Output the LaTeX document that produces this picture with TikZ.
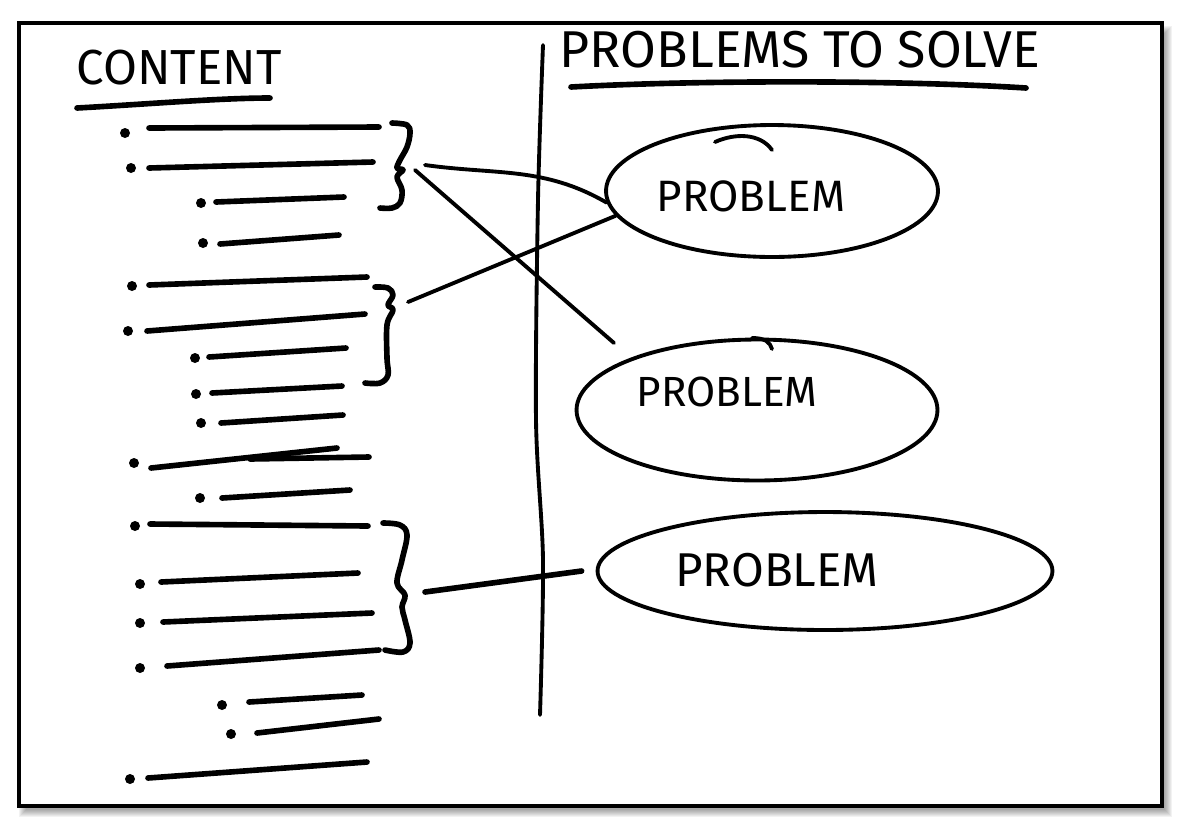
\documentclass[tikz,border=0pt]{standalone}
\usepackage{fontspec}
\setmainfont{Fira Sans}
\usetikzlibrary{positioning, shapes.geometric}

\tikzset{
  ink/.style={line width=3.2pt, line cap=round, line join=round},
  pen/.style={line width=2.2pt, line cap=round, line join=round},
  prob/.style={ellipse, draw, pen, inner sep=0pt},
  hand/.style={font=\fontsize{28}{28}\selectfont, inner sep=0pt},
}

\begin{document}
\begin{tikzpicture}[x=0.02cm, y=-0.02cm]
% sheet and its shadow
\useasboundingbox (0,0) rectangle (1186,826);
\foreach \s in {0,...,7}
  \fill[black, opacity=0.05] (26-\s,33-\s) rectangle (1165+\s,810+\s);
\draw[line width=1.9pt, fill=white] (19,23) rectangle (1162,806);

% headings
\node[hand] (content) at (179,68) {CONTENT};
\draw[ink] (77,108) .. controls (150,104) and (220,98) .. (270,98);
\node[hand, font=\fontsize{29.5}{30}\selectfont] (solve) at (800,50) {PROBLEMS TO SOLVE};
\draw[ink] (571,87) .. controls (700,80) and (900,80) .. (1026,88);

% divider
\draw[pen] plot[smooth] coordinates {(543,45) (538,200) (536,420) (543,560) (540,715)};

% bullet list
\foreach \dx/\dy/\ax/\ay/\bx/\by in {
    125/133/149/128/379/127, 131/168/149/168/373/162,
    201/203/216/202/344/197, 203/243/220/244/339/235,
    132/286/149/285/367/277, 128/331/147/331/365/314,
    195/358/209/357/346/348, 196/394/212/393/342/386,
    201/423/221/423/343/415, 134/463/151/468/337/448,
    200/498/222/498/350/490, 135/526/150/524/368/526,
    140/584/161/582/358/573, 140/623/163/622/372/613,
    140/668/167/666/379/650, 222/705/249/702/362/695,
    231/734/257/733/379/719, 130/779/148/778/367/762} {
  \fill (\dx,\dy) circle (5);
  \draw[ink] (\ax,\ay) -- (\bx,\by);
}
\draw[ink] (250,459) -- (369,457);

% braces
\draw[ink] plot[smooth, tension=0.6] coordinates {(392,123) (407,125) (410,133)
  (407,147) (400,160) (397,168) (403,170) (397,177) (402,190) (400,203) (392,208) (380,208)};
\draw[ink] plot[smooth, tension=0.6] coordinates {(375,287) (388,288) (393,295)
  (388,305) (393,310) (387,325) (387,358) (388,375) (380,383) (365,383)};
\draw[ink] plot[smooth, tension=0.6] coordinates {(383,523) (400,525) (407,535)
  (402,560) (397,583) (405,595) (402,607) (405,620) (410,643) (403,652) (385,650)};

% problems
\node[prob, minimum width=6.64cm, minimum height=2.64cm] (p1) at (772,191) {};
\node[prob, minimum width=7.22cm, minimum height=2.82cm] (p2) at (757,410) {};
\node[prob, minimum width=9.1cm, minimum height=2.36cm] (p3) at (825,571) {};
\node[hand, font=\fontsize{25}{25}\selectfont] (t1) at (751,196) {PROBLEM};
\node[hand, font=\fontsize{24}{24}\selectfont] (t2) at (727,392) {PROBLEM};
\node[hand, font=\fontsize{27}{27}\selectfont] (t3) at (777,570) {PROBLEM};
\draw[pen] (715,142) .. controls (735,133) and (760,133) .. (772,150);
\draw[pen] (752,338) .. controls (765,338) and (770,342) .. (772,349);

% links
\coordinate (b1) at (425,165);
\coordinate (b1x) at (415,170);
\coordinate (b2) at (408,302);
\coordinate (b3) at (425,592);
\coordinate (e2) at (614,343);
\draw[pen] (b1) to[out=-8,in=150] (p1.184);
\draw[pen] (b1x) -- (e2);
\draw[pen] (b2) -- (p1.189);
\draw[ink] (b3) -- ([xshift=-0.28cm]p3.west);
\end{tikzpicture}
\end{document}
